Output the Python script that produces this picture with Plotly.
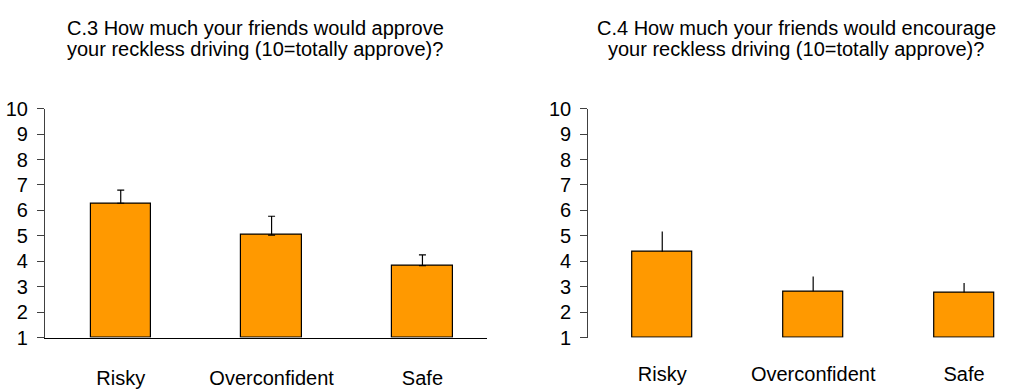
import plotly.graph_objects as go

categories = ["Risky", "Overconfident", "Safe"]
c3_means = [6.28, 5.03, 3.83]
c3_err_up = [0.52, 0.74, 0.42]
c4_means = [4.37, 2.82, 2.77]
c4_err_up = [0.80, 0.58, 0.37]
yticks = list(range(1, 11))
c3_title = ["C.3 How much your friends would approve",
            "your reckless driving (10=totally approve)?"]
c4_title = ["C.4 How much your friends would encourage",
            "your reckless driving (10=totally approve)?"]

W, H = 1016, 391
FONT = "Liberation Sans, Arial, sans-serif"
ORANGE = "#FF9900"
AX_SIZE = 20
TITLE_SIZE = 20

fig = go.Figure()
base = 1
fig.add_trace(go.Bar(
    x=categories, y=[m - base for m in c3_means], base=base,
    marker=dict(color=ORANGE, line=dict(color="black", width=1.2)),
    width=0.4,
    error_y=dict(type="data", symmetric=False, array=c3_err_up,
                 arrayminus=[0] * 3, color="black", thickness=1.2, width=3.5),
    xaxis="x", yaxis="y", showlegend=False, hoverinfo="skip"))
fig.add_trace(go.Bar(
    x=categories, y=[m - base for m in c4_means], base=base,
    marker=dict(color=ORANGE, line=dict(color="black", width=1.2)),
    width=0.4,
    error_y=dict(type="data", symmetric=False, array=c4_err_up,
                 arrayminus=[0] * 3, color="black", thickness=1.2, width=0),
    xaxis="x2", yaxis="y2", showlegend=False, hoverinfo="skip"))

ydom = [(H - 346) / H, (H - 103.5) / H]
yax = dict(range=[1, 10], tickvals=yticks, ticks="outside", ticklen=7,
           tickcolor="#404040", showline=True, linecolor="#404040", linewidth=1.2,
           showgrid=False, zeroline=False, ticklabelstandoff=5,
           tickfont=dict(family=FONT, size=AX_SIZE, color="black"),
           domain=ydom)

fig.update_layout(
    width=W, height=H, margin=dict(l=0, r=0, t=0, b=0),
    paper_bgcolor="white", plot_bgcolor="white",
    font=dict(family=FONT, size=AX_SIZE, color="black"),
    bargap=0,
    xaxis=dict(domain=[45 / W, 486.7 / W], range=[-0.502, 2.426],
               showline=True, linecolor="black", linewidth=1.2, ticks="",
               showgrid=False, zeroline=False, ticklabelstandoff=22,
               tickfont=dict(family=FONT, size=AX_SIZE, color="black"), anchor="y"),
    yaxis=dict(**yax, anchor="x"),
    xaxis2=dict(domain=[588.3 / W, 1.0], range=[-0.49, 2.344],
                showline=False, ticks="", showgrid=False, zeroline=False,
                ticklabelstandoff=22,
                tickfont=dict(family=FONT, size=AX_SIZE, color="black"), anchor="y2"),
    yaxis2=dict(**yax, anchor="x2"),
)

for cx, lines in [(255, c3_title), (796, c4_title)]:
    for py, txt in zip([18.5, 40.5], lines):
        fig.add_annotation(text=txt, x=cx / W, y=1 - py / H, xref="paper", yref="paper",
                           xanchor="center", yanchor="middle", showarrow=False,
                           font=dict(family=FONT, size=TITLE_SIZE, color="black"))

fig.write_html("out.html", config={"displayModeBar": False},
               post_script="document.body.style.margin='0px';document.body.style.padding='0px';")
